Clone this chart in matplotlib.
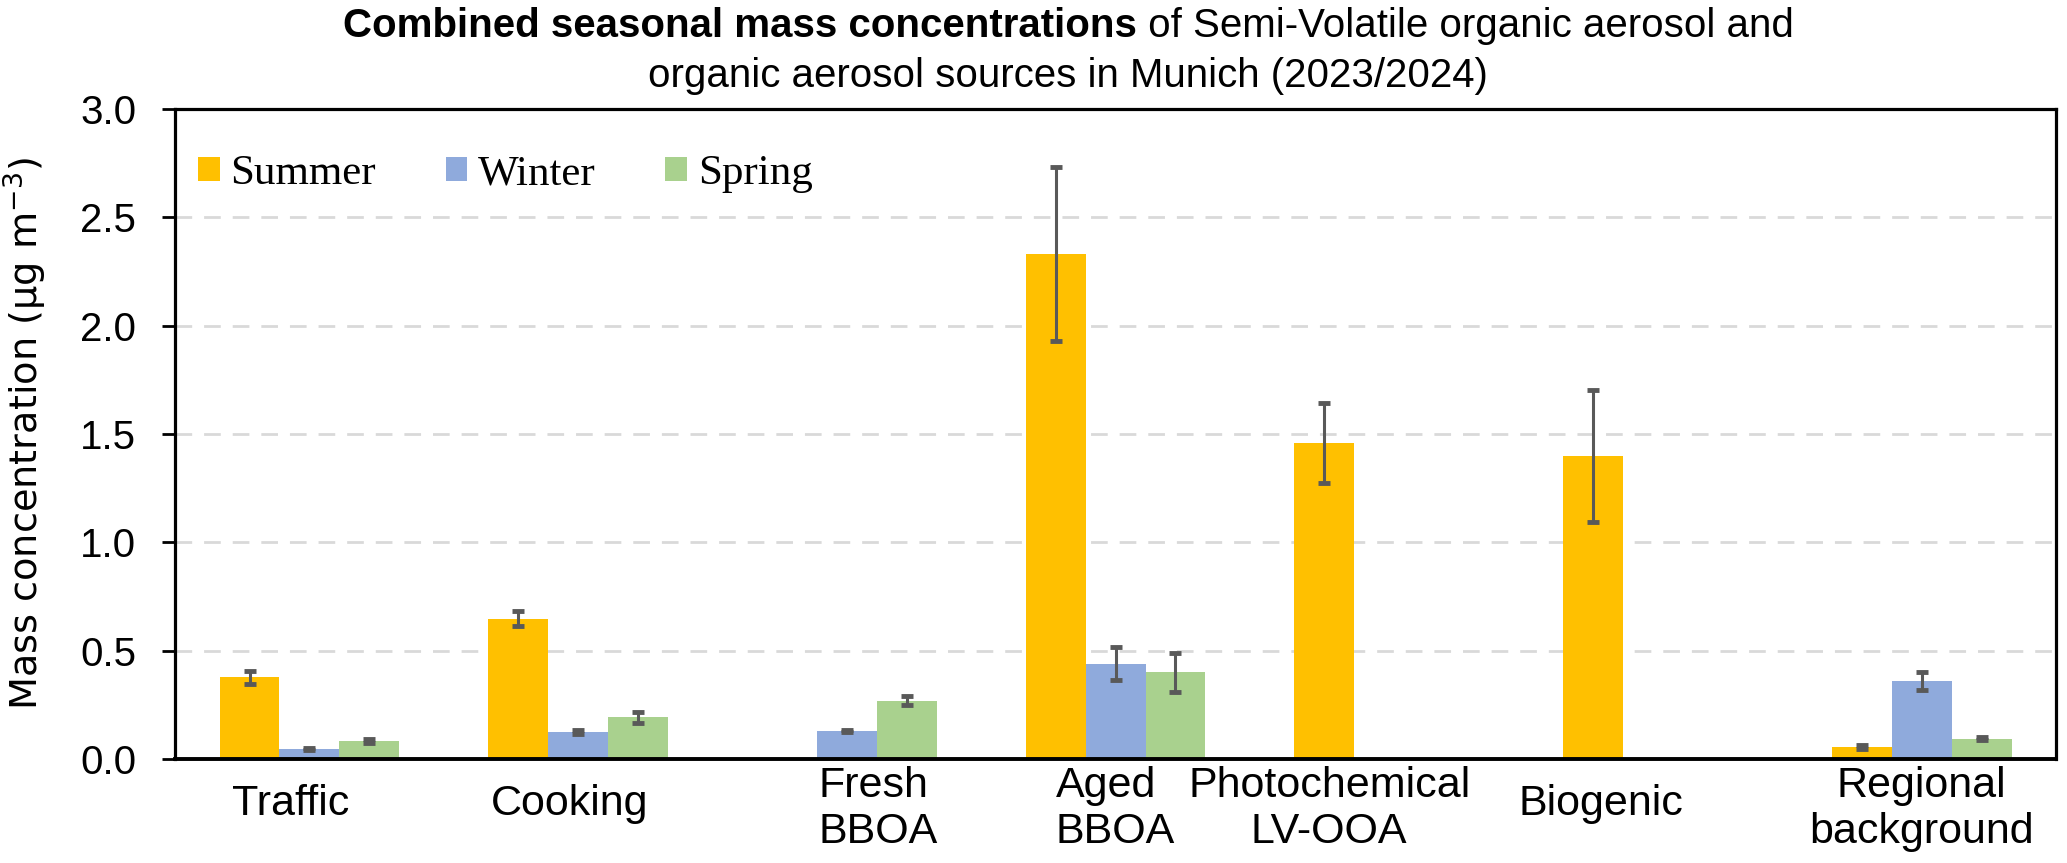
import numpy as np
import matplotlib
matplotlib.use('Agg')
import matplotlib.pyplot as plt
from matplotlib.transforms import blended_transform_factory

# data
categories = ['Traffic', 'Cooking', 'Fresh\nBBOA', 'Aged\nBBOA',
              'Photochemical\nLV-OOA', 'Biogenic', 'Regional\nbackground']
seasons = ['Summer', 'Winter', 'Spring']
summer = [0.378, 0.648, np.nan, 2.33, 1.46, 1.40, 0.056]
winter = [0.048, 0.124, 0.130, 0.44, np.nan, np.nan, 0.36]
spring = [0.084, 0.193, 0.270, 0.40, np.nan, np.nan, 0.094]
summer_err = [0.030, 0.033, np.nan, 0.40, 0.185, 0.305, 0.008]
winter_err = [0.005, 0.010, 0.005, 0.075, np.nan, np.nan, 0.040]
spring_err = [0.010, 0.025, 0.020, 0.090, np.nan, np.nan, 0.008]

COLORS = ['#FFC000', '#8FAADC', '#A9D18E']
ERR_COLOR = '#595959'
SANS = 'Liberation Sans'

# label placement tweaks (x shift in category units, alignment)
LABEL_SHIFT = [-0.07, -0.03, 0.115, 0.0, -0.205, -0.195, 0.0]
LABEL_ALIGN = ['center', 'center', 'left', 'left', 'center', 'center', 'center']

fig = plt.figure(figsize=(20.67, 8.63), dpi=100)
fig.patch.set_facecolor('white')
ax = fig.add_axes([0.0847, 0.1205, 0.9100, 0.7532])

x = np.arange(len(categories))
width = 0.223
series = [summer, winter, spring]
errs = [summer_err, winter_err, spring_err]
for k, (vals, err) in enumerate(zip(series, errs)):
    pos = x + (k - 1) * width
    ax.bar(pos, vals, width, color=COLORS[k], label=seasons[k], zorder=2,
           linewidth=0)
    ax.errorbar(pos, vals, yerr=err, fmt='none', ecolor=ERR_COLOR,
                elinewidth=2.2, capsize=4.5, capthick=3.5, zorder=3)

ax.set_xlim(-0.5, len(categories) - 0.5)
ax.set_ylim(0, 3.0)
ax.set_yticks(np.arange(0, 3.01, 0.5))
ax.set_yticklabels([f'{v:.1f}' for v in np.arange(0, 3.01, 0.5)],
                   fontsize=29, family=SANS)
ax.tick_params(axis='y', length=9.4, width=2, pad=18.5, direction='out')
ax.set_xticks([])

for v in np.arange(0.5, 2.6, 0.5):
    ax.axhline(v, color='#D9D9D9', linewidth=2, dashes=(6, 4.3), zorder=1)

for sp in ax.spines.values():
    sp.set_linewidth(2.3)
    sp.set_color('black')
ax.spines['bottom'].set_linewidth(2.8)
ax.spines['bottom'].set_zorder(4)

# category labels
trans = blended_transform_factory(ax.transData, ax.transAxes)
for i, lab in enumerate(categories):
    two_lines = '\n' in lab
    ax.annotate(lab, xy=(x[i] + LABEL_SHIFT[i], 0), xycoords=trans,
                xytext=(0, -50 if two_lines else -45), textcoords='offset pixels',
                ha='center', va='center', multialignment=LABEL_ALIGN[i],
                fontsize=31, family=SANS, linespacing=1.2,
                annotation_clip=False)

leg = ax.legend(loc='center left', bbox_to_anchor=(0.0122, 0.9),
                ncol=3, frameon=False, borderaxespad=0, borderpad=0,
                handlelength=0.5, handleheight=0.5, handletextpad=0.25,
                columnspacing=1.62, prop={'family': 'Liberation Serif', 'size': 31})

fig.text(0.0125, 0.498, 'Mass concentration (µg m$^{-3}$)', rotation=90,
         ha='center', va='center', fontsize=27.5, family='DejaVu Sans')

# title: bold lead-in plus regular text on the first line
fig.canvas.draw()
renderer = fig.canvas.get_renderer()
cx = 0.5167
t1 = fig.text(0, 0.970, 'Combined seasonal mass concentrations', fontsize=29,
              fontweight='bold', family=SANS, ha='left', va='center')
t2 = fig.text(0, 0.970, ' of Semi-Volatile organic aerosol and', fontsize=29,
              family=SANS, ha='left', va='center')
w1 = t1.get_window_extent(renderer).width / fig.bbox.width
w2 = t2.get_window_extent(renderer).width / fig.bbox.width
start = cx - (w1 + w2) / 2
t1.set_x(start)
t2.set_x(start + w1)
fig.text(cx, 0.912, 'organic aerosol sources in Munich (2023/2024)', fontsize=29,
         family=SANS, ha='center', va='center')

fig.savefig('out.png', dpi=100, facecolor='white')
